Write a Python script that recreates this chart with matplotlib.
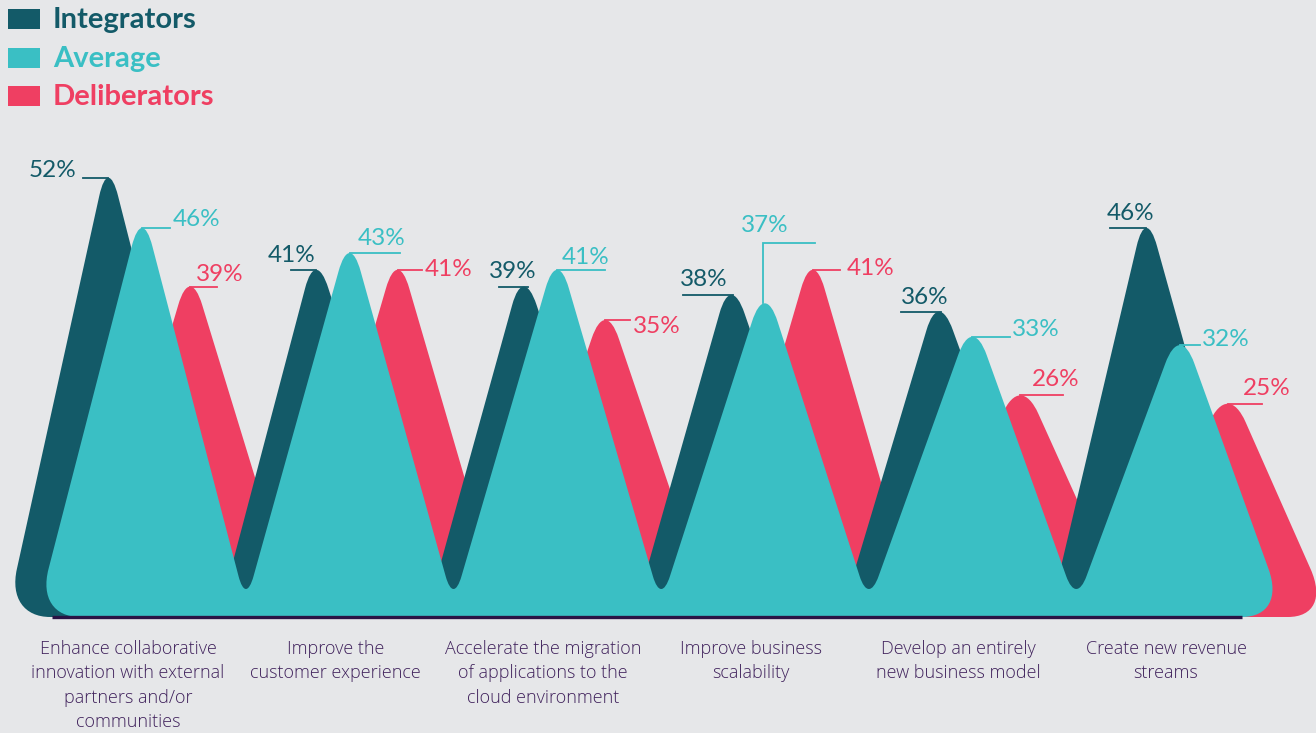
import numpy as np
import matplotlib
matplotlib.use("Agg")
import matplotlib.pyplot as plt
from matplotlib.path import Path
from matplotlib.patches import PathPatch, Rectangle

# ---------------- data ----------------
categories = [
    "Enhance collaborative\ninnovation with external\npartners and/or\ncommunities",
    "Improve the\ncustomer experience",
    "Accelerate the migration\nof applications to the\ncloud environment",
    "Improve business\nscalability",
    "Develop an entirely\nnew business model",
    "Create new revenue\nstreams",
]
series_names = ["Integrators", "Average", "Deliberators"]
integrators = [52, 41, 39, 38, 36, 46]
average = [46, 43, 41, 37, 33, 32]
deliberators = [39, 41, 35, 41, 26, 25]

# ---------------- style ----------------
BG = "#e6e7e9"
C_DARK = "#135a68"
C_TEAL = "#3abfc4"
C_RED = "#ef3f62"
C_TXT = "#40225c"
C_BASE = "#2a1345"

W, H = 1316, 733
PX_X = 207.6          # pixels per category unit
PX_Y = 8.37           # pixels per percent
X0_PX = 142           # pixel of category 0 (Average apex)
Y0_PX = 613           # pixel of 0 %

fig = plt.figure(figsize=(W / 100, H / 100), dpi=100, facecolor=BG)
ax = fig.add_axes([0, 0, 1, 1])
ax.set_facecolor(BG)
ax.set_xlim(-X0_PX / PX_X, (W - X0_PX) / PX_X)
ax.set_ylim((Y0_PX - H) / PX_Y, Y0_PX / PX_Y)
ax.axis("off")

def px(dx):   # horizontal pixels -> data
    return dx / PX_X

def py(dy):   # vertical pixels -> data
    return dy / PX_Y

VALLEY = py(24)        # visible valley height
BOTTOM = -py(4)        # bottom of shapes

PEAK_D, PEAK_K = py(40), 0.62
VAL_D, VAL_K = py(28), 0.62

def mountain(vals, offset, valley_shift, hw_left, hw_right):
    xs = np.arange(len(vals)) + offset
    ys = np.asarray(vals, float)
    c0 = np.array([xs[0] - hw_left, BOTTOM])
    c1 = np.array([xs[-1] + hw_right, BOTTOM])
    rc_y, rc_x = py(48), px(44)

    # sharp vertices (raised peaks / lowered valleys so rounded curve hits value)
    pts = []
    for i in range(len(xs)):
        pts.append((np.array([xs[i], ys[i] + PEAK_D * (1 - 0.75 * PEAK_K)]), "peak"))
        if i < len(xs) - 1:
            vx = (xs[i] + xs[i + 1]) / 2 + valley_shift
            pts.append((np.array([vx, VALLEY - VAL_D * (1 - 0.75 * VAL_K)]), "valley"))

    def edge_pt(c, apex, drop):
        f = drop / (apex[1] - c[1])
        return c + (apex - c) * f

    verts, codes = [], []
    f0 = c0 + np.array([rc_x, 0])
    e0 = edge_pt(c0, pts[0][0], rc_y)
    verts += [f0, f0 + (c0 - f0) * 0.6, e0 + (c0 - e0) * 0.6, e0]
    codes += [Path.MOVETO, Path.CURVE4, Path.CURVE4, Path.CURVE4]

    prev = c0
    for j, (p, kind) in enumerate(pts):
        nxt = pts[j + 1][0] if j + 1 < len(pts) else c1
        d, k = (PEAK_D, PEAK_K) if kind == "peak" else (VAL_D, VAL_K)
        fa = min(d / abs(prev[1] - p[1]), 0.45)
        fb = min(d / abs(nxt[1] - p[1]), 0.45)
        pin = p + (prev - p) * fa
        pout = p + (nxt - p) * fb
        verts += [pin, pin + (p - pin) * k, pout + (p - pout) * k, pout]
        codes += [Path.LINETO, Path.CURVE4, Path.CURVE4, Path.CURVE4]
        prev = p
    e1 = edge_pt(c1, pts[-1][0], rc_y)
    f1 = c1 - np.array([rc_x, 0])
    verts += [e1, e1 + (c1 - e1) * 0.6, f1 + (c1 - f1) * 0.6, f1]
    codes += [Path.LINETO, Path.CURVE4, Path.CURVE4, Path.CURVE4]
    verts += [f0, f0]
    codes += [Path.LINETO, Path.CLOSEPOLY]
    return Path(np.array(verts), codes), f0, f1

OFF_DARK, OFF_TEAL, OFF_RED = -px(34), 0.0, px(48)

p_red, _, _ = mountain(deliberators, OFF_RED, 0.0, 0.5, 0.5)
p_dark, dark_f0, _ = mountain(integrators, OFF_DARK, px(10), 0.49, 0.55)
p_teal, _, teal_f1 = mountain(average, OFF_TEAL, 0.0, 0.51, 0.51)

ax.add_patch(PathPatch(p_red, facecolor=C_RED, edgecolor="none", zorder=1))
ax.add_patch(PathPatch(p_dark, facecolor=C_DARK, edgecolor="none", zorder=2))
ax.add_patch(PathPatch(p_teal, facecolor=C_TEAL, edgecolor="none", zorder=3))

# baseline
ax.plot([dark_f0[0] + px(2), teal_f1[0]], [BOTTOM, BOTTOM], color=C_BASE,
        lw=2.4, solid_capstyle="butt", zorder=4)

# ---------------- value labels ----------------
NUM_FONT = dict(family=["Lato", "DejaVu Sans"], fontsize=17.5)
# (mode, line_start_px, line_end_px, text_dx_px, text_dy_px)
label_style = {
    "dark": [("left", -25, 0, -32, 7), ("above", -25, 0, -24, 8), ("above", -24, 5, -10, 9),
             ("above", -48, 2, -27, 9), ("above", -37, 3, -14, 8), ("above", -36, 0, -15, 8)],
    "teal": [("right", 0, 28, 31, 8), ("above", 0, 50, 32, 8), ("above", 0, 48, 28, 6),
             ("elbow", 0, 50, 7, 60), ("right", 0, 38, 40, 7), ("right", 0, 20, 22, 6)],
    "red":  [("above", 0, 27, 30, 6), ("right", 0, 24, 27, 0), ("right", 0, 25, 28, -6),
             ("right", 0, 27, 34, 1), ("above", 0, 43, 35, 9), ("above", 0, 34, 39, 9)],
}
for key, vals, off, col in [("dark", integrators, OFF_DARK, C_DARK),
                            ("teal", average, OFF_TEAL, C_TEAL),
                            ("red", deliberators, OFF_RED, C_RED)]:
    for i, v in enumerate(vals):
        mode, l0, l1, tdx, tdy = label_style[key][i]
        xa = i + off
        txt = f"{v}%"
        if mode == "elbow":
            top = v + py(tdy)
            ax.plot([xa - px(2), xa - px(2), xa + px(l1)], [v, top, top], color=col,
                    lw=1.3, zorder=5, solid_joinstyle="miter")
            ax.text(xa, top + py(tdx), txt, color=col, ha="center", va="bottom",
                    zorder=6, **NUM_FONT)
            continue
        ax.plot([xa + px(l0), xa + px(l1)], [v, v], color=col, lw=1.3, zorder=5)
        if mode == "left":
            ax.text(xa + px(tdx), v + py(tdy), txt, color=col, ha="right",
                    va="center", zorder=6, **NUM_FONT)
        elif mode == "above":
            ax.text(xa + px(tdx), v + py(tdy), txt, color=col, ha="center",
                    va="baseline", zorder=6, **NUM_FONT)
        else:
            ax.text(xa + px(tdx), v + py(tdy), txt, color=col, ha="left",
                    va="center", zorder=6, **NUM_FONT)

# ---------------- category labels ----------------
for i, cat in enumerate(categories):
    ax.text(i - px(14), BOTTOM - py(23), cat, ha="center", va="top",
            color=C_TXT, fontsize=13, linespacing=1.45,
            family=["Open Sans", "DejaVu Sans"], fontweight="light", zorder=6)

# ---------------- legend ----------------
leg_cols = [C_DARK, C_TEAL, C_RED]
leg_y = [19, 58, 96]
for name, col, yc in zip(series_names, leg_cols, leg_y):
    fig.patches.append(Rectangle((8 / W, 1 - (yc + 10) / H), 32 / W, 20 / H,
                                 transform=fig.transFigure, facecolor=col,
                                 edgecolor="none"))
    fig.text(53 / W, 1 - (yc + 1) / H, name, color=col, fontsize=21, fontweight="bold",
             family=["Lato", "DejaVu Sans"], va="center", ha="left")

fig.savefig("out.png", dpi=100, facecolor=BG)
